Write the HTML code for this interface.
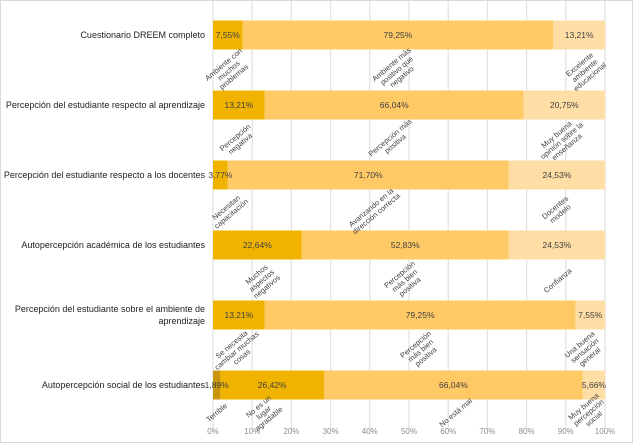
<!DOCTYPE html>
<html><head><meta charset="utf-8"><style>
body{margin:0;background:#fff;font-family:"Liberation Sans",sans-serif;}
#c{position:relative;width:633px;height:443px;overflow:hidden;border:1px solid #d9d9d9;box-sizing:border-box;}
.ann{position:absolute;font-size:7.5px;line-height:8px;color:#404040;text-align:center;transform:translate(-50%,-50%) rotate(-40deg);white-space:nowrap;}
.cat{position:absolute;right:427px;font-size:9px;color:#222;text-align:right;transform:translateY(-50%);line-height:12px;white-space:nowrap;}
</style></head><body>
<div id="c">
<svg id="s" width="633" height="443" style="position:absolute;left:0;top:0"></svg>
</div>
<script>
const categories=["Cuestionario DREEM completo","Percepción del estudiante respecto al aprendizaje","Percepción del estudiante respecto a los docentes","Autopercepción académica de los estudiantes","Percepción del estudiante sobre el ambiente de aprendizaje","Autopercepción social de los estudiantes"];
const seriesDark=[0,0,0,0,0,1.89];
const seriesLow=[7.55,13.21,3.77,22.64,13.21,26.42];
const seriesMid=[79.25,66.04,71.70,52.83,79.25,66.04];
const seriesHigh=[13.21,20.75,24.53,24.53,7.55,5.66];
const tickLabels=["0%","10%","20%","30%","40%","50%","60%","70%","80%","90%","100%"];
const annotations=[
[0,4,"Ambiente con<br>muchos<br>problemas",1],[0,47,"Ambiente más<br>positivo que<br>negativo",1],[0,95,"Excelente<br>ambiente<br>educacional",1],
[1,6.5,"Percepción<br>negativa",1],[1,46,"Percepción más<br>positiva",1],[1,89,"Muy buena<br>opinión sobre la<br>enseñanza",1],
[2,4,"Necesitan<br>capacitación",1],[2,41,"Avanzando en la<br>dirección correcta",1],[2,88,"Docentes<br>modelo",1],
[3,12.5,"Muchos<br>aspectos<br>negativos",1],[3,49,"Percepción<br>más bien<br>positiva",1],[3,88,"Confianza",1],
[4,6,"Se necesita<br>cambiar muchas<br>cosas",1],[4,53,"Percepción<br>más bien<br>positiva",1],[4,95,"Una buena<br>sensación<br>general",1],
[5,1,"Terrible",0],[5,13,"No es un<br>lugar<br>agradable",0],[5,62,"No está mal",0],[5,96,"Muy buena<br>percepción<br>social",0]
];
const x0=212,x1=604,rowTop=34,rowStep=70,barH=29;
const X=v=>x0+(x1-x0)*v/100;
const Y=i=>rowTop+i*rowStep;
const svg=document.getElementById('s'),C=document.getElementById('c');
const NS="http://www.w3.org/2000/svg";
function mk(t,a){const e=document.createElementNS(NS,t);for(const k in a)e.setAttribute(k,a[k]);svg.appendChild(e);return e;}
tickLabels.forEach((t,i)=>{
 const v=i*10;
 const g=mk('line',{x1:X(v),x2:X(v),y1:0,y2:428,stroke:'#e3e3e3','stroke-width':1.3});
 
 
 const tx=mk('text',{x:X(v),y:433,'font-size':8,fill:'#8c8c8c','text-anchor':'middle','font-family':'Liberation Sans'});
 tx.textContent=t;
 
 
});
const segs=[[seriesDark,'#c9960c'],[seriesLow,'#f0b400'],[seriesMid,'#ffc966'],[seriesHigh,'#ffdea6']];
categories.forEach((c,i)=>{
 let acc=0;
 segs.forEach(([arr,col])=>{
  const v=arr[i];
  if(v<=0)return;
  const r=mk('rect',{x:X(acc),y:Y(i)-barH/2,width:X(acc+v)-X(acc),height:barH,fill:col});
  
  
  acc+=v;
 });
 acc=0;
 segs.forEach(([arr,col])=>{
  const v=arr[i];
  if(v<=0)return;
  const t=mk('text',{x:(X(acc)+X(acc+v))/2,y:Y(i)+3,'font-size':8.5,fill:'#404040','text-anchor':'middle','font-family':'Liberation Sans'});
  t.textContent=v.toFixed(2).replace('.',',')+'%';
  
  
  acc+=v;
 });
 const d=document.createElement('div');
 d.className='cat';d.style.top=Y(i)+'px';
 d.innerHTML=c.replace('ambiente de aprendizaje','ambiente de<br>aprendizaje');
 
 
 C.appendChild(d);
});
annotations.forEach(([row,v,txt,below])=>{
 const d=document.createElement('div');
 d.className='ann';d.innerHTML=txt;
 d.style.left=X(v)+'px';
 d.style.top=(Y(row)+ (below?36:28))+'px';
 
 
 C.appendChild(d);
});
</script>
</body></html>
